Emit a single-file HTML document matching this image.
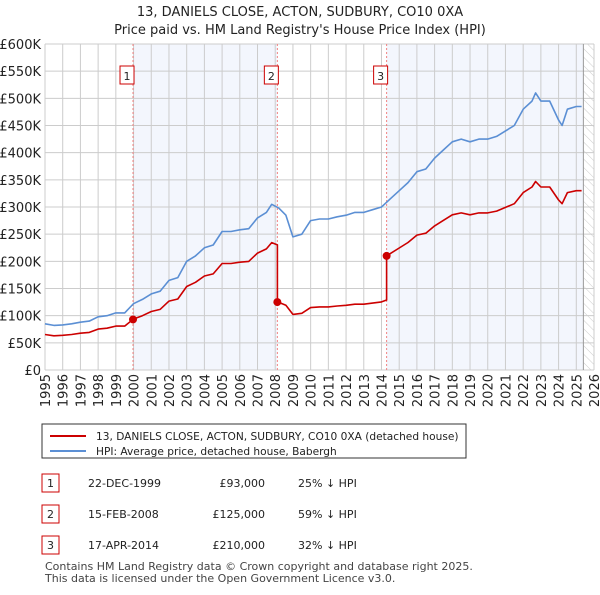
<!DOCTYPE html>
<html><head><meta charset="utf-8"><style>
body{margin:0;background:#fff;font-family:"Liberation Sans","DejaVu Sans",sans-serif;}
svg text{font-family:"DejaVu Sans","Liberation Sans",sans-serif;}
</style></head><body>
<svg id="c" width="600" height="590" xmlns="http://www.w3.org/2000/svg">
<defs><pattern id="hatch" width="6" height="6" patternUnits="userSpaceOnUse" patternTransform="rotate(-45)"><line x1="0" y1="0" x2="0" y2="6" stroke="#ccc" stroke-width="1"/></pattern></defs>
<text x="300" y="16" text-anchor="middle" font-size="13" fill="#222">13, DANIELS CLOSE, ACTON, SUDBURY, CO10 0XA</text>
<text x="300" y="34" text-anchor="middle" font-size="13" fill="#222">Price paid vs. HM Land Registry's House Price Index (HPI)</text>
<g id="plot"></g>
<g>
<rect x="42" y="424" width="424" height="34" fill="#fff" stroke="#333" stroke-width="1"/>
<line x1="50" y1="436" x2="86" y2="436" stroke="#cc0000" stroke-width="2"/>
<text x="96" y="440" font-size="10.6" fill="#222">13, DANIELS CLOSE, ACTON, SUDBURY, CO10 0XA (detached house)</text>
<line x1="50" y1="451" x2="86" y2="451" stroke="#5b8fd4" stroke-width="2"/>
<text x="96" y="455" font-size="10.6" fill="#222">HPI: Average price, detached house, Babergh</text>
</g>
<g font-size="11" fill="#222">
<rect x="42" y="474" width="17" height="18" fill="#fff" stroke="#cc0000"/><text x="50.5" y="487" text-anchor="middle">1</text>
<text x="88" y="487">22-DEC-1999</text><text x="265" y="487" text-anchor="end">£93,000</text><text x="298" y="487">25% ↓ HPI</text>
<rect x="42" y="505" width="17" height="18" fill="#fff" stroke="#cc0000"/><text x="50.5" y="518" text-anchor="middle">2</text>
<text x="88" y="518">15-FEB-2008</text><text x="265" y="518" text-anchor="end">£125,000</text><text x="298" y="518">59% ↓ HPI</text>
<rect x="42" y="536" width="17" height="18" fill="#fff" stroke="#cc0000"/><text x="50.5" y="549" text-anchor="middle">3</text>
<text x="88" y="549">17-APR-2014</text><text x="265" y="549" text-anchor="end">£210,000</text><text x="298" y="549">32% ↓ HPI</text>
</g>
<text x="45" y="570" font-size="11" fill="#444">Contains HM Land Registry data © Crown copyright and database right 2025.</text>
<text x="45" y="582" font-size="11" fill="#444">This data is licensed under the Open Government Licence v3.0.</text>
</svg>
<script>
const hpiYears=[1995,1995.5,1996,1996.5,1997,1997.5,1998,1998.5,1999,1999.5,2000,2000.5,2001,2001.5,2002,2002.5,2003,2003.5,2004,2004.5,2005,2005.5,2006,2006.5,2007,2007.5,2007.8,2008.2,2008.6,2009,2009.5,2010,2010.5,2011,2011.5,2012,2012.5,2013,2013.5,2014,2014.5,2015,2015.5,2016,2016.5,2017,2017.5,2018,2018.5,2019,2019.5,2020,2020.5,2021,2021.5,2022,2022.5,2022.7,2023,2023.5,2024,2024.2,2024.5,2025,2025.3];
const hpiValues=[85,82,83,85,88,90,98,100,105,105,122,130,140,145,165,170,200,210,225,230,255,255,258,260,280,290,305,298,285,245,250,275,278,278,282,285,290,290,295,300,315,330,345,365,370,390,405,420,425,420,425,425,430,440,450,480,495,510,495,495,460,450,480,485,485];
const saleYears=[1999.97,2008.12,2014.29];
const saleValues=[93,125,210];
const saleLabels=["1","2","3"];
const yTicks=[0,50,100,150,200,250,300,350,400,450,500,550,600];
const yTickLabels=["£0","£50K","£100K","£150K","£200K","£250K","£300K","£350K","£400K","£450K","£500K","£550K","£600K"];
const xTicks=[1995,1996,1997,1998,1999,2000,2001,2002,2003,2004,2005,2006,2007,2008,2009,2010,2011,2012,2013,2014,2015,2016,2017,2018,2019,2020,2021,2022,2023,2024,2025,2026];
const dataEnd=2025.4;

const NS="http://www.w3.org/2000/svg";
const X0=45,X1=594,Y0=370,Y1=44;
const xs=t=>X0+(t-1995)/(2026-1995)*(X1-X0);
const ys=v=>Y0-v/600*(Y0-Y1);
const g=document.getElementById('plot');
function mk(tag,attrs,parent){const e=document.createElementNS(NS,tag);for(const k in attrs)e.setAttribute(k,attrs[k]);(parent||g).appendChild(e);return e;}
function hpiAt(t){for(let i=0;i<hpiYears.length-1;i++){if(t<=hpiYears[i+1]){const f=(t-hpiYears[i])/(hpiYears[i+1]-hpiYears[i]);return hpiValues[i]+f*(hpiValues[i+1]-hpiValues[i]);}}return hpiValues[hpiValues.length-1];}
let r=mk('rect',{x:xs(saleYears[0]),y:Y1,width:xs(saleYears[1])-xs(saleYears[0]),height:Y0-Y1,fill:'#f3f6fd'});

r=mk('rect',{x:xs(saleYears[2]),y:Y1,width:xs(dataEnd)-xs(saleYears[2]),height:Y0-Y1,fill:'#f3f6fd'});

r=mk('rect',{x:xs(dataEnd),y:Y1,width:X1-xs(dataEnd),height:Y0-Y1,fill:'url(#hatch)'});

yTicks.forEach((v,i)=>{const l=mk('line',{x1:X0,x2:X1,y1:ys(v),y2:ys(v),stroke:'#ccc'});
const t=mk('text',{x:X0-4,y:ys(v)+5,'text-anchor':'end','font-size':13,fill:'#222'});t.textContent=yTickLabels[i];});
xTicks.forEach(v=>{const l=mk('line',{x1:xs(v),x2:xs(v),y1:Y1,y2:Y0,stroke:'#ccc'});
const t=mk('text',{x:0,y:0,'text-anchor':'end','font-size':13,fill:'#222',transform:`translate(${xs(v)+5},${Y0+4}) rotate(-90)`});t.textContent=v;});
let l=mk('line',{x1:xs(dataEnd),x2:xs(dataEnd),y1:Y1,y2:Y0,stroke:'#999'});
saleYears.forEach((t,i)=>{const v=mk('line',{x1:xs(t),x2:xs(t),y1:Y1,y2:Y0,stroke:'#f08080','stroke-dasharray':'2,2'});
const b=mk('rect',{x:xs(t)-13,y:66,width:14,height:18,fill:'#fff',stroke:'#cc0000'});
const tx=mk('text',{x:xs(t)-6,y:80,'text-anchor':'middle','font-size':11,fill:'#222'});tx.textContent=saleLabels[i];});
let d=hpiYears.map((t,i)=>(i?'L':'M')+xs(t).toFixed(1)+','+ys(hpiValues[i]).toFixed(1)).join('');
let p=mk('path',{d:d,fill:'none',stroke:'#5b8fd4','stroke-width':1.6,'stroke-linejoin':'round'});
const ratios=saleYears.map((t,i)=>saleValues[i]/hpiAt(t));
function ratioAt(t){let k=0;for(let i=0;i<saleYears.length;i++)if(t>=saleYears[i])k=i;return ratios[k];}
let pts=[];
hpiYears.forEach((t,i)=>{saleYears.forEach((s,j)=>{if(j>0&&s>hpiYears[i-1]&&s<=t){pts.push([s,hpiAt(s)*ratios[j-1]]);pts.push([s,saleValues[j]]);}});pts.push([t,hpiValues[i]*ratioAt(t)]);});
d=pts.map((q,i)=>(i?'L':'M')+xs(q[0]).toFixed(1)+','+ys(q[1]).toFixed(1)).join('');
p=mk('path',{d:d,fill:'none',stroke:'#cc0000','stroke-width':1.6,'stroke-linejoin':'round'});
saleYears.forEach((t,i)=>{const c=mk('circle',{cx:xs(t),cy:ys(saleValues[i]),r:4,fill:'#cc0000'});});
</script>
</body></html>
